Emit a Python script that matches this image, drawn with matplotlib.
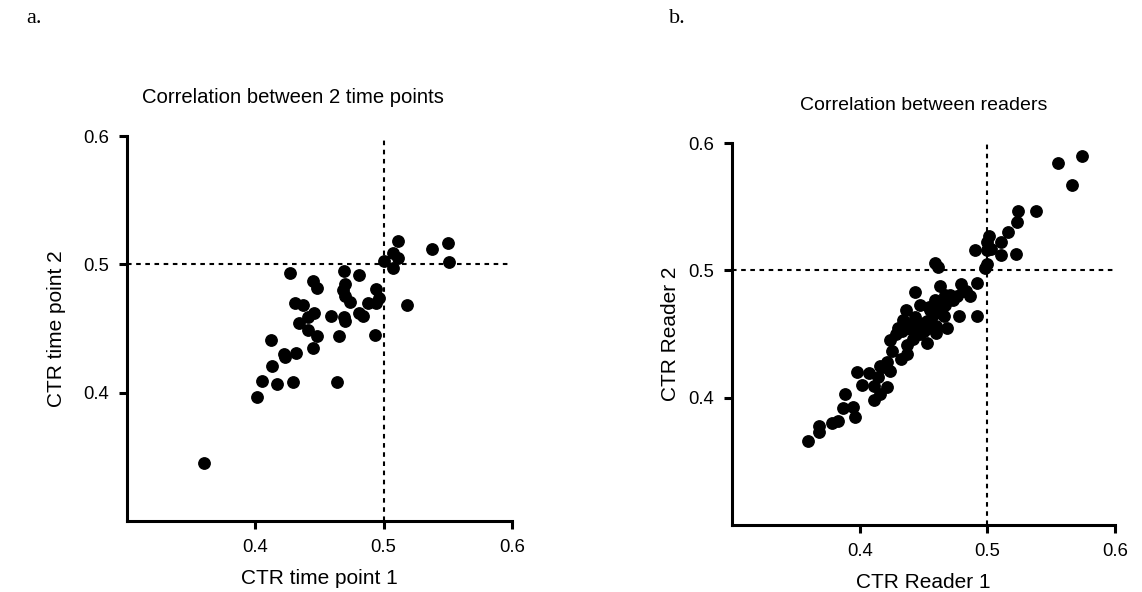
import matplotlib
matplotlib.use('Agg')
import matplotlib.pyplot as plt

plt.rcParams['font.family'] = ['Liberation Sans', 'DejaVu Sans']

# panel a: CTR at two time points
a_time1 = [0.511, 0.550, 0.538, 0.507, 0.511, 0.500, 0.551, 0.507, 0.427, 0.469,
           0.481, 0.445, 0.448, 0.470, 0.468, 0.494, 0.470, 0.474, 0.496, 0.488,
           0.494, 0.518, 0.431, 0.437, 0.446, 0.441, 0.459, 0.469, 0.470, 0.481,
           0.484, 0.434, 0.441, 0.448, 0.465, 0.493, 0.412, 0.445, 0.432, 0.422,
           0.423, 0.413, 0.405, 0.417, 0.429, 0.464, 0.401, 0.360]
a_time2 = [0.518, 0.517, 0.512, 0.509, 0.505, 0.503, 0.502, 0.497, 0.493, 0.495,
           0.492, 0.487, 0.482, 0.485, 0.480, 0.481, 0.475, 0.471, 0.474, 0.470,
           0.470, 0.468, 0.470, 0.468, 0.462, 0.459, 0.460, 0.459, 0.456, 0.462,
           0.460, 0.454, 0.449, 0.444, 0.444, 0.445, 0.441, 0.435, 0.431, 0.430,
           0.428, 0.421, 0.409, 0.407, 0.408, 0.408, 0.397, 0.345]

# panel b: CTR by two readers
b_reader1 = [0.574, 0.555, 0.566, 0.524, 0.538, 0.523, 0.516, 0.501, 0.511, 0.500,
             0.490, 0.500, 0.503, 0.511, 0.522, 0.500, 0.498, 0.459, 0.461, 0.443,
             0.463, 0.479, 0.492, 0.447, 0.478, 0.492, 0.481, 0.473, 0.467, 0.462,
             0.457, 0.453, 0.466, 0.468, 0.460, 0.450, 0.434, 0.433, 0.442, 0.453,
             0.437, 0.430, 0.440, 0.450, 0.458, 0.424, 0.425, 0.437, 0.432, 0.421,
             0.418, 0.424, 0.398, 0.407, 0.414, 0.402, 0.411, 0.421, 0.416, 0.411,
             0.388, 0.387, 0.395, 0.396, 0.383, 0.378, 0.368, 0.368, 0.359, 0.416,
             0.436, 0.443, 0.454, 0.459, 0.471, 0.476, 0.486, 0.483, 0.467, 0.465,
             0.455, 0.447, 0.428, 0.438, 0.446, 0.460]
b_reader2 = [0.590, 0.584, 0.567, 0.547, 0.547, 0.538, 0.530, 0.527, 0.522, 0.522,
             0.516, 0.516, 0.517, 0.512, 0.513, 0.505, 0.502, 0.506, 0.503, 0.483,
             0.488, 0.489, 0.490, 0.473, 0.464, 0.464, 0.484, 0.477, 0.473, 0.469,
             0.465, 0.460, 0.464, 0.455, 0.456, 0.452, 0.461, 0.452, 0.446, 0.443,
             0.441, 0.455, 0.454, 0.459, 0.454, 0.445, 0.437, 0.434, 0.430, 0.428,
             0.424, 0.421, 0.420, 0.419, 0.416, 0.410, 0.409, 0.408, 0.403, 0.398,
             0.403, 0.392, 0.393, 0.385, 0.382, 0.380, 0.378, 0.373, 0.366, 0.425,
             0.469, 0.463, 0.471, 0.477, 0.481, 0.480, 0.480, 0.484, 0.481, 0.475,
             0.469, 0.450, 0.450, 0.458, 0.458, 0.451]

ticks = [0.4, 0.5, 0.6]
tick_labels = ['0.4', '0.5', '0.6']

fig = plt.figure(figsize=(11.42, 5.92), dpi=100)
ax_a = fig.add_axes([0.1112, 0.120, 0.3371, 0.650])
ax_b = fig.add_axes([0.6412, 0.1132, 0.3352, 0.6452])

panels = [
    (ax_a, a_time1, a_time2, 'Correlation between 2 time points', 14.6, 0.43,
     'CTR time point 1', 'CTR time point 2', 12),
    (ax_b, b_reader1, b_reader2, 'Correlation between readers', 14, 0.5,
     'CTR Reader 1', 'CTR Reader 2', 6),
]

for ax, xs, ys, title, tsize, tx, xlab, ylab, ypad in panels:
    ax.plot(xs, ys, 'o', color='black', markersize=8.2, zorder=3)
    ax.axhline(0.5, color='black', linestyle=(0, (2.2, 2.2)), linewidth=1.5, zorder=2)
    ax.axvline(0.5, color='black', linestyle=(0, (2.2, 2.2)), linewidth=1.5, zorder=2)
    ax.set_xlim(0.3, 0.6)
    ax.set_ylim(0.3, 0.6)
    ax.set_xticks(ticks)
    ax.set_xticklabels(tick_labels)
    ax.set_yticks(ticks)
    ax.set_yticklabels(tick_labels)
    for side in ['top', 'right']:
        ax.spines[side].set_visible(False)
    for side in ['left', 'bottom']:
        ax.spines[side].set_linewidth(2.2)
    ax.tick_params(direction='out', length=6, width=2.2, labelsize=13.3, pad=7)
    ax.set_title(title, fontsize=tsize, pad=24, x=tx)
    ax.set_xlabel(xlab, fontsize=15, labelpad=9)
    ax.set_ylabel(ylab, fontsize=15, labelpad=ypad)

fig.text(0.023, 0.985, 'a.', fontsize=16, family=['Liberation Serif', 'DejaVu Serif'], va='top')
fig.text(0.586, 0.985, 'b.', fontsize=16, family=['Liberation Serif', 'DejaVu Serif'], va='top')

fig.savefig('out.png', dpi=100)
